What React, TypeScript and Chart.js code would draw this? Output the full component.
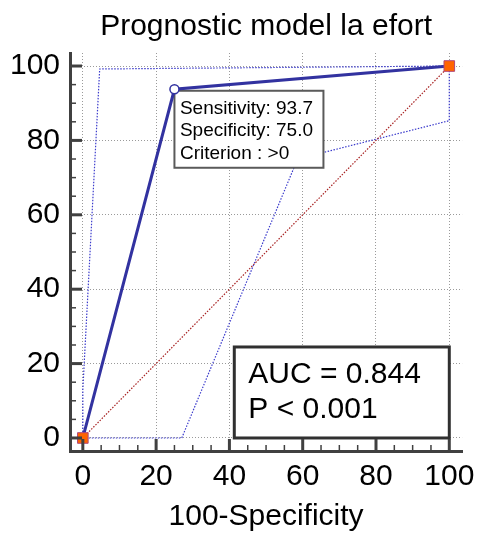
import React, { useEffect, useRef } from "react";
import { Chart, registerables } from "chart.js";

Chart.register(...registerables);

// ---- data ----
const rocX = [0, 25, 100];
const rocY = [0, 93.75, 100];
const upperX = [0, 0, 4.6, 100];
const upperY = [0, 13, 99.2, 100];
const lowerX = [0, 27, 58.6, 100, 100];
const lowerY = [0, 0, 75, 85.3, 100];
const diagX = [0, 100];
const diagY = [0, 100];
const endX = [0, 100];
const endY = [0, 100];
const critX = [25];
const critY = [93.75];
const majorTicks = [0, 20, 40, 60, 80, 100];
const minorTicks = [5, 10, 15, 25, 30, 35, 45, 50, 55, 65, 70, 75, 85, 90, 95];
const criterionLines = ["Sensitivity: 93.7", "Specificity: 75.0", "Criterion : >0"];
const aucLines = ["AUC = 0.844", "P < 0.001"];
const chartTitle = "Prognostic model la efort";
const xTitle = "100-Specificity";

const FONT = "'Liberation Sans', Arial, Helvetica, sans-serif";

const pts = (xs: number[], ys: number[]) => xs.map((v, i) => ({ x: v, y: ys[i] }));

const DIAG_INDEX = 2;

const overlay = {
  id: "overlay",
  afterDatasetDraw(chart: any, args: any) {
    if (args.index !== DIAG_INDEX) return;
    const { ctx, scales } = chart;
    const x = scales.x;
    const y = scales.y;
    ctx.save();
    // criterion box
    const bx = x.getPixelForValue(critX[0]);
    const by = y.getPixelForValue(critY[0]) + 1.5;
    const bw = 149;
    const bh = 77;
    ctx.fillStyle = "#ffffff";
    ctx.fillRect(bx, by, bw, bh);
    ctx.strokeStyle = "#5a5a5a";
    ctx.lineWidth = 2;
    ctx.strokeRect(bx, by, bw, bh);
    ctx.fillStyle = "#000";
    ctx.font = `19px ${FONT}`;
    ctx.textAlign = "left";
    ctx.textBaseline = "alphabetic";
    criterionLines.forEach((t, i) => {
      ctx.fillText(t, bx + 5.5, by + 23 + i * 22.5);
    });
    // AUC box
    const right = x.getPixelForValue(100);
    const bottom = y.getPixelForValue(0);
    const aw = 215;
    const ah = 91;
    const ax = right - aw;
    const ay = bottom - ah;
    ctx.fillStyle = "#ffffff";
    ctx.fillRect(ax, ay, aw, ah);
    ctx.strokeStyle = "#303030";
    ctx.lineWidth = 3;
    ctx.strokeRect(ax, ay, aw, ah);
    ctx.fillStyle = "#000";
    ctx.font = `30px ${FONT}`;
    aucLines.forEach((t, i) => {
      ctx.fillText(t, ax + 14, ay + 36.5 + i * 35);
    });
    ctx.restore();
  },
  afterDraw(chart: any) {
    const { ctx, chartArea, scales } = chart;
    const x = scales.x;
    const y = scales.y;
    ctx.save();
    ctx.strokeStyle = "#404040";
    const tick = (isX: boolean, v: number, len: number, w: number) => {
      ctx.lineWidth = w;
      ctx.beginPath();
      if (isX) {
        const p = x.getPixelForValue(v);
        ctx.moveTo(p, chartArea.bottom);
        ctx.lineTo(p, chartArea.bottom - len);
      } else {
        const p = y.getPixelForValue(v);
        ctx.moveTo(chartArea.left, p);
        ctx.lineTo(chartArea.left + len, p);
      }
      ctx.stroke();
    };
    majorTicks.forEach((v) => {
      tick(true, v, 12, 3);
      tick(false, v, 12, 3);
    });
    minorTicks.forEach((v) => {
      tick(true, v, 6, 1.5);
      tick(false, v, 6, 1.5);
    });
    ctx.restore();
  },
};

export default function App() {
  const ref = useRef<HTMLCanvasElement | null>(null);
  useEffect(() => {
    if (!ref.current) return;
    const axisFont = { family: FONT, size: 30, weight: "normal" as const };
    const chart = new Chart(ref.current, {
      type: "scatter",
      data: {
        datasets: [
          {
            data: pts(upperX, upperY),
            showLine: true,
            borderColor: "#3b3bcc",
            borderWidth: 1.2,
            borderDash: [1.5, 1.5],
            pointRadius: 0,
            order: 5,
          },
          {
            data: pts(lowerX, lowerY),
            showLine: true,
            borderColor: "#3b3bcc",
            borderWidth: 1.2,
            borderDash: [1.5, 1.5],
            pointRadius: 0,
            order: 4,
          },
          {
            data: pts(diagX, diagY),
            showLine: true,
            borderColor: "#a82222",
            borderWidth: 1.2,
            borderDash: [1.5, 1.5],
            pointRadius: 0,
            order: 3,
          },
          {
            data: pts(rocX, rocY),
            showLine: true,
            borderColor: "#3232a0",
            borderWidth: 3,
            pointRadius: 0,
            order: 2,
          },
          {
            data: pts(critX, critY),
            showLine: false,
            pointStyle: "circle",
            pointRadius: 4.5,
            pointBackgroundColor: "#ffffff",
            pointBorderColor: "#3232a0",
            pointBorderWidth: 1.5,
            order: 1,
          },
          {
            data: pts(endX, endY),
            showLine: false,
            pointStyle: "rect",
            pointRadius: 7.5,
            pointBackgroundColor: "#ff6400",
            pointBorderColor: "#b0487a",
            pointBorderWidth: 1,
            order: 0,
          },
        ],
      },
      options: {
        animation: false,
        responsive: false,
        events: [],
        layout: { padding: { left: 0, right: 15, top: 0, bottom: 0 } },
        plugins: {
          legend: { display: false },
          tooltip: { enabled: false },
          title: {
            display: true,
            text: chartTitle,
            fullSize: false,
            color: "#000",
            font: axisFont,
            padding: { top: 8.5, bottom: 8.5 },
          },
        },
        scales: {
          x: {
            type: "linear",
            position: "bottom",
            min: -3.5,
            max: 103.5,
            afterBuildTicks: (s: any) => {
              s.ticks = majorTicks.map((v) => ({ value: v }));
            },
            afterFit: (s: any) => {
              s.height = 84;
            },
            ticks: {
              padding: 8,
              color: "#000",
              font: axisFont,
              autoSkip: false,
              maxRotation: 0,
              callback: (v: any) => String(v),
            },
            grid: { color: "#9a9a9a", lineWidth: 1, drawTicks: false },
            border: { display: true, color: "#404040", width: 3, dash: [1, 2] },
            title: {
              display: true,
              text: xTitle,
              color: "#000",
              font: axisFont,
              padding: { top: 0, bottom: 0 },
            },
          },
          y: {
            type: "linear",
            position: "left",
            min: -3.5,
            max: 103.5,
            afterBuildTicks: (s: any) => {
              s.ticks = majorTicks.map((v) => ({ value: v }));
            },
            afterFit: (s: any) => {
              s.width = 70;
            },
            ticks: {
              padding: 10,
              color: "#000",
              font: axisFont,
              autoSkip: false,
              callback: (v: any) => String(v),
            },
            grid: { color: "#9a9a9a", lineWidth: 1, drawTicks: false },
            border: { display: true, color: "#404040", width: 3, dash: [1, 2] },
          },
        },
      },
      plugins: [overlay],
    } as any);
    return () => chart.destroy();
  }, []);
  return (
    <div style={{ position: "absolute", left: 0, top: 0, width: 483, height: 535 }}>
      <canvas ref={ref} width={483} height={535} style={{ width: 483, height: 535 }} />
    </div>
  );
}
